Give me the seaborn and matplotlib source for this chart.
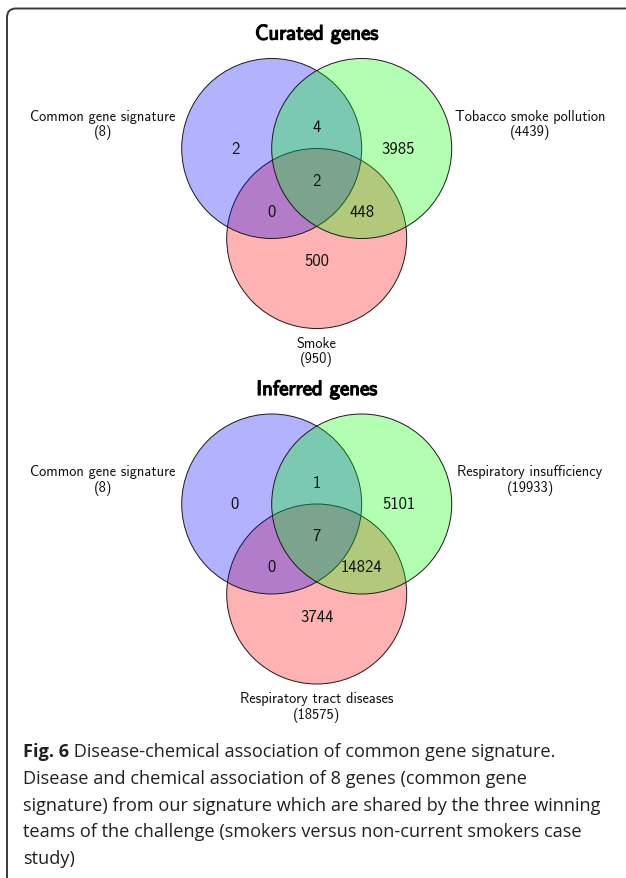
import matplotlib
matplotlib.use("Agg")
import matplotlib.pyplot as plt
import matplotlib.patheffects as pe
from matplotlib.patches import Circle, FancyBboxPatch
import seaborn as sns

# ---- data -------------------------------------------------------------
# region ids: A = common gene signature, B = second set, C = third set
region_ids = ["100", "010", "110", "001", "101", "011", "111"]

curated_title = "Curated genes"
curated_sets = ["Common gene signature", "Tobacco smoke pollution", "Smoke"]
curated_counts = [2, 3985, 4, 500, 0, 448, 2]

inferred_title = "Inferred genes"
inferred_sets = ["Common gene signature", "Respiratory insufficiency",
                 "Respiratory tract diseases"]
inferred_counts = [0, 5101, 1, 3744, 0, 14824, 7]

caption_bold = "Fig. 6"
caption_lines = [
    "Disease-chemical association of common gene signature.",
    "Disease and chemical association of 8 genes (common gene",
    "signature) from our signature which are shared by the three winning",
    "teams of the challenge (smokers versus non-current smokers case",
    "study)",
]

# ---- layout (units of circle radius) ----------------------------------
centers = {"A": (-0.5, 0.0), "B": (0.5, 0.0), "C": (0.0, -1.0)}
draw_order = ["C", "A", "B"]
set_colors = {"A": (0, 0, 1), "B": (0, 1, 0), "C": (1, 0, 0)}
region_xy = {
    "100": (-0.908, 0.0), "010": (0.908, 0.0), "110": (0.0, 0.242),
    "001": (0.0, -1.25), "101": (-0.5, -0.70), "011": (0.5, -0.70),
    "111": (0.0, -0.355),
}
set_label_xy = {"A": (-2.374, 0.272), "B": (2.37, 0.272), "C": (0.0, -2.25)}

sns.set_theme(style="white")
plt.rcParams["font.family"] = ["cmss10", "DejaVu Sans"]
plt.rcParams["axes.unicode_minus"] = False

W, H = 626, 879
fig = plt.figure(figsize=(W / 100, H / 100), dpi=100)
fig.patch.set_facecolor("white")

# background axes in pixel coordinates for frame and caption
bg = fig.add_axes([0, 0, 1, 1])
bg.set_xlim(0, W)
bg.set_ylim(H, 0)
bg.axis("off")
frame = FancyBboxPatch((7, 9.5), 660, 900,
                       boxstyle="round,pad=0,rounding_size=9",
                       facecolor="none", edgecolor="#3a3a3a", linewidth=1.4)
bg.add_patch(frame)

UNIT = 90.0  # pixels per radius


def venn_axes(cx_px, cy_px):
    x0, x1 = -3.4, 3.4
    y0, y1 = -2.6, 1.4
    left = cx_px + x0 * UNIT
    top = cy_px - y1 * UNIT
    w = (x1 - x0) * UNIT
    h = (y1 - y0) * UNIT
    ax = fig.add_axes([left / W, 1 - (top + h) / H, w / W, h / H])
    ax.set_xlim(x0, x1)
    ax.set_ylim(y0, y1)
    ax.axis("off")
    return ax


def draw_venn(ax, title, set_names, counts):
    by_region = dict(zip(region_ids, counts))
    totals = {
        key: sum(v for r, v in by_region.items() if r[i] == "1")
        for i, key in enumerate(["A", "B", "C"])
    }
    for key in draw_order:
        ax.add_patch(Circle(centers[key], 1.0,
                            facecolor=set_colors[key] + (0.3,),
                            edgecolor="#1a1a1a", linewidth=0.7))
    for rid, val in by_region.items():
        x, y = region_xy[rid]
        ax.text(x, y, str(val), ha="center", va="center",
                fontsize=12, color="#111111")
    for i, key in enumerate(["A", "B", "C"]):
        x, y = set_label_xy[key]
        ax.text(x, y, f"{set_names[i]}\n({totals[key]})", ha="center",
                va="center", fontsize=10.4, linespacing=1.15,
                color="#111111")
    ax.text(0, 1.272, title, ha="center", va="center", fontsize=15,
            color="black",
            path_effects=[pe.withStroke(linewidth=0.9, foreground="black")])


ax_top = venn_axes(316.7, 149.5)
draw_venn(ax_top, curated_title, curated_sets, curated_counts)
ax_bot = venn_axes(316.7, 505.0)
draw_venn(ax_bot, inferred_title, inferred_sets, inferred_counts)

# caption
cap_font = dict(fontfamily="Open Sans", fontsize=13.1, color="#231f20")
base0, step = 757, 26.8
first = bg.text(22.7, base0, caption_bold, ha="left", va="baseline",
                fontweight="bold", **cap_font)
bg.annotate(" " + caption_lines[0], xy=(1, 0), xycoords=first,
            ha="left", va="bottom", **cap_font)
for k, line in enumerate(caption_lines[1:], start=1):
    bg.text(22.7, base0 + k * step, line, ha="left", va="baseline",
            **cap_font)

fig.savefig("out.png", dpi=100)
